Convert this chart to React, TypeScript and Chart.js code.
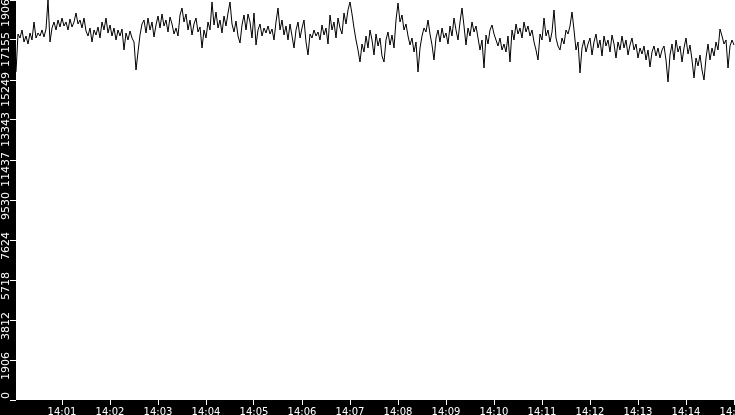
import React, { useEffect, useRef } from "react";
import { Chart, registerables } from "chart.js";

Chart.register(...registerables);

// Sampling: seconds after 14:00:00
const START_SEC = 2.5;
const STEP_SEC = 2.5;
const X_MIN = 2.5;
const X_MAX = 901.25;

const X_TICK_SECONDS = [60, 120, 180, 240, 300, 360, 420, 480, 540, 600, 660, 720, 780, 840, 900];
const X_TICK_LABELS = ["14:01", "14:02", "14:03", "14:04", "14:05", "14:06", "14:07", "14:08", "14:09", "14:10", "14:11", "14:12", "14:13", "14:14", "14:15"];

const Y_MAX = 19061;
const Y_TICK_VALUES = [0, 1906.1, 3812.2, 5718.3, 7624.4, 9530.5, 11436.6, 13342.7, 15248.8, 17154.9, 19061];
const Y_TICK_LABELS = ["0", "1906", "3812", "5718", "7624", "9530", "11437", "13343", "15249", "17155", "19061"];

const VALUES_A = [
  15630, 17441, 17250, 17632, 17060, 17346, 16964, 17489, 17155, 18013, 17250, 17489, 17346, 17632, 17298, 17679, 19061, 17060, 17727, 18013, 17632, 18108, 17774,
  18203, 17822, 18013, 17632, 18156, 17774, 18013, 18442, 17917, 18108, 17727, 18203, 17584, 17346, 17727, 17060, 17632, 17393, 17774, 17250, 18013, 17632, 18203, 17489, 17870, 17346, 17727, 17155, 17632, 17346, 17679, 16679, 17489, 17155, 17584, 17250, 17060,
];
const VALUES_B = [
  15726, 16583, 17393, 17917, 18108, 17489, 18203, 17632, 18013, 17298,
  17870, 18299, 17727, 18394, 17822, 18108, 17536, 18251, 17917, 17441,
  17727, 17346, 18346, 18680, 18013, 18394, 17632, 18108, 17393, 17917,
  18203, 17536, 17774, 16774, 17632, 17250, 18013, 17632, 18966, 17870,
  18489, 17727, 18108, 17489, 18299, 17822, 18442, 18966, 17917, 17536,
  18060, 17346, 17012, 17870, 18346, 17632, 18394, 18013,
];
const VALUES_C = [
  17250, 18442, 16917, 17632, 17917, 17346, 17727, 17489, 17822, 17441,
  17679, 17155, 18013, 18680, 17632, 18108, 17393, 17822, 17155, 17917,
  17346, 16774, 17632, 18013, 17250, 17727, 18108, 17060, 16440, 17441,
  17250, 17632, 17346, 17536, 17155, 17870, 17393, 17727, 16964, 18346,
  17632, 18013, 17250, 18203, 17727, 17441, 18442, 17917, 18585, 18966,
  18394, 17727, 17155, 16679, 16107, 16964, 16583, 17346, 16774, 17632,
  17155, 16440, 17441, 16869, 17250, 16393, 16107, 17155, 17536, 16917,
  17393, 16774, 18108, 18918, 18013, 18346, 17632, 17917, 17346, 16917,
  17250, 16583, 17060, 15630, 16774, 17346, 17727, 17536, 18108, 17441,
  16917, 16202, 17250, 17632, 17060, 17727, 17250, 17489, 16964, 17822,
  17346, 18203, 17632, 17155, 18013, 18680, 17822, 16917, 17727, 17346,
  18013, 17536, 17822, 17250, 16679, 17155, 15821, 17393, 16964, 17632,
  17870, 17441,
];
const VALUES_D = [
  17155, 16869, 17250, 16679, 16964, 16583, 17346, 16107, 17632, 17155,
  17917, 17441, 17727, 17250, 18013, 17536, 17822, 17346, 17632, 17060,
  16679, 16202, 17441, 17155, 18203, 17346, 17632, 17060, 17536, 18585,
  17250, 16869, 16679, 17250, 16964, 17632, 17441, 17822, 18489, 17632,
  16679, 17060, 15583, 16774, 17155, 16583, 16964, 17250, 16440, 17060,
  17441, 16774, 17155, 16393, 17346, 16869, 17155, 16583, 17393, 16964,
  16297, 17060, 16679, 17346, 16774, 17155, 16440, 16917, 17250, 16679,
  16964, 16297, 16774, 16488, 16869, 16202, 16679, 15868, 16583, 16869,
  16393, 16774, 16297, 16679, 16869, 16202, 15154, 16440, 16964, 16202,
  17155, 16583, 16869, 16107, 16774, 17250, 16488, 16917, 16202, 15344,
  16297, 15916, 16440, 15726, 15249, 16297, 16964, 16202, 16774, 16393,
  17060, 16679, 17679, 17346, 16964, 17155, 15821, 16869, 17155, 16917,
];

const VALUES = [...VALUES_A, ...VALUES_B, ...VALUES_C, ...VALUES_D];

export default function App() {
  const canvasRef = useRef<HTMLCanvasElement | null>(null);

  useEffect(() => {
    const canvas = canvasRef.current;
    if (!canvas) return;
    const points = VALUES.map((v, i) => ({ x: START_SEC + i * STEP_SEC, y: v }));

    const bgPlugin = {
      id: "bg",
      beforeDraw(chart: any) {
        const { ctx, chartArea, width, height } = chart;
        ctx.save();
        ctx.fillStyle = "#000";
        ctx.fillRect(0, 0, width, height);
        ctx.fillStyle = "#fff";
        ctx.fillRect(chartArea.left, chartArea.top, chartArea.right - chartArea.left, chartArea.bottom - chartArea.top);
        ctx.restore();
      },
    };

    const chart = new Chart(canvas, {
      type: "line",
      data: {
        datasets: [
          {
            data: points,
            borderColor: "#000",
            borderWidth: 1,
            pointRadius: 0,
            tension: 0,
            fill: false,
          },
        ],
      },
      options: {
        animation: false,
        responsive: false,
        devicePixelRatio: 1,
        layout: { padding: 0 },
        plugins: { legend: { display: false }, tooltip: { enabled: false } },
        scales: {
          x: {
            type: "linear",
            min: X_MIN,
            max: X_MAX,
            border: { display: false },
            grid: { drawOnChartArea: false, drawTicks: true, tickLength: 5, color: "#fff", lineWidth: 1 },
            ticks: {
              autoSkip: false,
              maxRotation: 0,
              minRotation: 0,
              padding: 1,
              color: "#fff",
              font: { family: "DejaVu Sans", size: 10, lineHeight: 1.2 },
              callback: (_v: any, i: number) => X_TICK_LABELS[i],
            },
            afterBuildTicks: (scale: any) => {
              scale.ticks = X_TICK_SECONDS.map((v) => ({ value: v }));
            },
            afterFit: (scale: any) => {
              scale.height = 15;
              scale.paddingLeft = 0;
              scale.paddingRight = 0;
            },
          },
          y: {
            type: "linear",
            min: 0,
            max: Y_MAX,
            border: { display: false },
            grid: { drawOnChartArea: false, drawTicks: true, tickLength: 6, color: "#fff", lineWidth: 1 },
            ticks: {
              autoSkip: false,
              minRotation: 90,
              maxRotation: 90,
              padding: 4,
              labelOffset: -8,
              color: "#fff",
              font: { family: "DejaVu Sans", size: 11, lineHeight: 1.2 },
              callback: (_v: any, i: number) => Y_TICK_LABELS[i],
            },
            afterBuildTicks: (scale: any) => {
              scale.ticks = Y_TICK_VALUES.map((v) => ({ value: v }));
            },
            afterFit: (scale: any) => {
              scale.width = 16;
              scale.paddingTop = 0;
              scale.paddingBottom = 0;
            },
          },
        },
      },
      plugins: [bgPlugin],
    });

    return () => chart.destroy();
  }, []);

  return (
    <div style={{ position: "fixed", left: 0, top: 0, width: 735, height: 415 }}>
      <canvas ref={canvasRef} width={735} height={415} style={{ display: "block", width: 735, height: 415 }} />
    </div>
  );
}
